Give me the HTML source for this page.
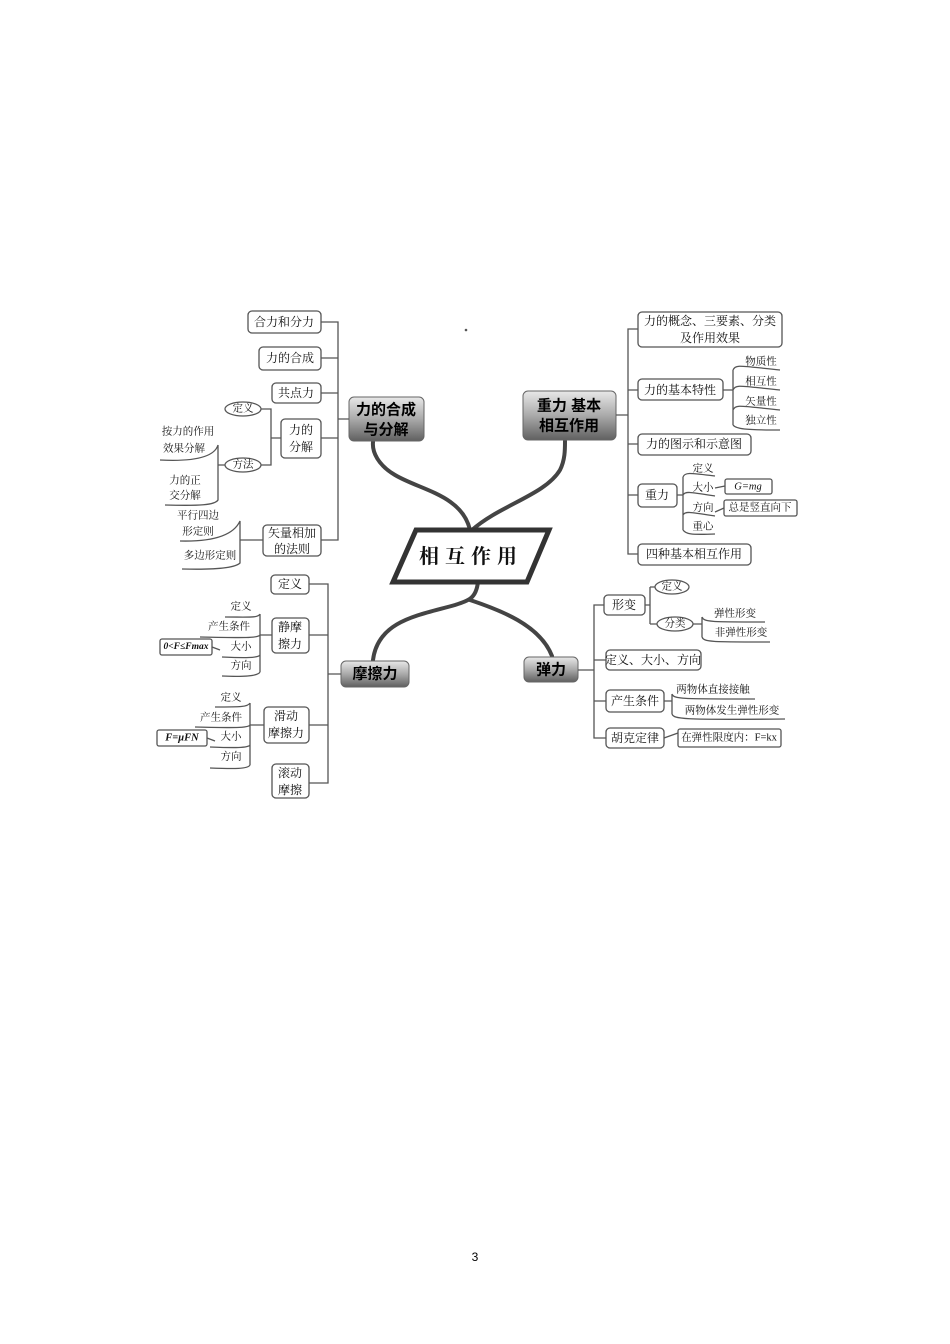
<!DOCTYPE html>
<html><head><meta charset="utf-8"><style>
body{margin:0;background:#fff;}
svg{display:block;font-family:"Liberation Serif","Noto Serif CJK SC","Noto Sans CJK SC",serif;}
.b{fill:#fff;stroke:#555;stroke-width:1.3}
.l{fill:none;stroke:#555;stroke-width:1.3}
.t{font-size:12px;fill:#111;text-anchor:middle;dominant-baseline:central}
.s{font-size:10.5px;fill:#111;text-anchor:middle;dominant-baseline:central}
.h{font-family:"Liberation Sans","Noto Sans CJK SC",sans-serif;font-size:15px;font-weight:bold;fill:#000;text-anchor:middle;dominant-baseline:central}
.c{fill:none;stroke:#444;stroke-width:4;stroke-linecap:round}
</style></head><body>
<svg width="950" height="1344" viewBox="0 0 950 1344">
<defs><linearGradient id="g" x1="0" y1="0" x2="0" y2="1"><stop offset="0" stop-color="#e8e8e8"/><stop offset="0.5" stop-color="#aaa"/><stop offset="1" stop-color="#606060"/></linearGradient></defs>
<path class="c" d="M470,530 C462,495 420,490 395,475 C378,465 372,452 373,442"/>
<path class="c" d="M472,530 C500,505 545,495 560,470 C565,460 565,450 565,441"/>
<path class="c" d="M478,582 C476,598 470,600 455,605 C420,615 378,620 373,660"/>
<path class="c" d="M470,600 C500,610 540,625 552,656"/>
<polygon points="416,530 549,530 527,582 393,582" fill="#fff" stroke="#333" stroke-width="5"/>
<text x="471" y="557" style="font-size:20px;font-weight:bold;letter-spacing:6px" class="t">相互作用</text>
<circle cx="466" cy="330" r="1.3" fill="#555"/>
<rect x="349" y="397" width="75" height="44" rx="5" fill="url(#g)" stroke="#666"/>
<text x="386" y="410" class="h">力的合成</text><text x="386" y="430" class="h">与分解</text>
<rect x="523" y="391" width="93" height="49" rx="5" fill="url(#g)" stroke="#666"/>
<text x="569" y="406" class="h">重力  基本</text><text x="569" y="426" class="h">相互作用</text>
<rect x="341" y="661" width="68" height="26" rx="5" fill="url(#g)" stroke="#666"/>
<text x="375" y="674" class="h">摩擦力</text>
<rect x="524" y="657" width="54" height="25" rx="5" fill="url(#g)" stroke="#666"/>
<text x="551" y="670" class="h">弹力</text>

<path class="l" d="M321,322H338V540H321M321,358H338M321,393H338M321,438H338M338,419H349"/>
<rect class="b" x="248" y="311" width="73" height="22" rx="4"/><text x="284" y="322" class="t">合力和分力</text>
<rect class="b" x="259" y="347" width="62" height="23" rx="4"/><text x="290" y="358" class="t">力的合成</text>
<rect class="b" x="272" y="383" width="49" height="20" rx="4"/><text x="296" y="393" class="t">共点力</text>
<rect class="b" x="281" y="419" width="40" height="39" rx="4"/><text x="301" y="430" class="t">力的</text><text x="301" y="447" class="t">分解</text>
<rect class="b" x="263" y="525" width="58" height="31" rx="4"/><text x="292" y="533" class="t">矢量相加</text><text x="292" y="549" class="t">的法则</text>
<path class="l" d="M261,409H271V465H261M271,438H281"/>
<ellipse class="b" cx="243" cy="409" rx="18" ry="7"/><text x="243" y="409" class="s">定义</text>
<ellipse class="b" cx="243" cy="465" rx="18" ry="7"/><text x="243" y="465" class="s">方法</text>
<path class="l" d="M225,465H218M160,460C200,462 215,455 218,445V500C215,505 200,506 165,505"/>
<text x="188" y="432" class="s">按力的作用</text><text x="184" y="449" class="s">效果分解</text>
<text x="185" y="481" class="s">力的正</text><text x="185" y="496" class="s">交分解</text>
<path class="l" d="M263,540H240M180,541C220,542 235,532 240,521V563C236,567 220,570 182,569"/>
<text x="198" y="516" class="s">平行四边</text><text x="198" y="532" class="s">形定则</text><text x="210" y="556" class="s">多边形定则</text>

<path class="l" d="M638,329H628V554H638M628,390H638M628,444H638M628,495H638M616,415H628"/>
<rect class="b" x="638" y="312" width="144" height="35" rx="4"/><text x="710" y="321" class="t">力的概念、三要素、分类</text><text x="710" y="338" class="t">及作用效果</text>
<rect class="b" x="638" y="379" width="85" height="21" rx="4"/><text x="680" y="390" class="t">力的基本特性</text>
<path class="l" d="M723,390H733M733,370V425M733,370C736,364 740,366 780,370M733,390C736,384 740,386 780,390M733,410C736,404 740,406 780,410M733,425C736,429 745,430 780,430"/>
<text x="761" y="362" class="s">物质性</text><text x="761" y="382" class="s">相互性</text><text x="761" y="402" class="s">矢量性</text><text x="761" y="421" class="s">独立性</text>
<rect class="b" x="638" y="434" width="113" height="21" rx="4"/><text x="694" y="444" class="t">力的图示和示意图</text>
<rect class="b" x="638" y="484" width="39" height="23" rx="4"/><text x="657" y="495" class="t">重力</text>
<path class="l" d="M677,495H683M683,477V530M683,477C685,472 690,473 715,476M683,495C685,491 690,492 715,496M683,515C685,511 690,512 715,516M683,530C686,534 690,535 715,534"/>
<text x="703" y="469" class="s">定义</text><text x="703" y="488" class="s">大小</text><text x="703" y="508" class="s">方向</text><text x="703" y="527" class="s">重心</text>
<path class="l" d="M715,488L725,486M715,512L724,508"/>
<rect class="b" x="725" y="479" width="47" height="15" rx="2"/><text x="748" y="487" class="s" style="font-style:italic">G=mg</text>
<rect class="b" x="724" y="500" width="73" height="16" rx="2"/><text x="760" y="508" class="s">总是竖直向下</text>
<rect class="b" x="638" y="544" width="113" height="21" rx="4"/><text x="694" y="554" class="t">四种基本相互作用</text>

<path class="l" d="M309,584H328V783H309M309,635H328M309,725H328M328,674H341"/>
<rect class="b" x="271" y="575" width="38" height="19" rx="4"/><text x="290" y="584" class="t">定义</text>
<rect class="b" x="272" y="618" width="37" height="35" rx="4"/><text x="290" y="627" class="t">静摩</text><text x="290" y="644" class="t">擦力</text>
<rect class="b" x="264" y="707" width="45" height="36" rx="4"/><text x="286" y="716" class="t">滑动</text><text x="286" y="733" class="t">摩擦力</text>
<rect class="b" x="272" y="764" width="37" height="34" rx="4"/><text x="290" y="773" class="t">滚动</text><text x="290" y="790" class="t">摩擦</text>
<path class="l" d="M272,635H260M260,614V672M260,614C258,618 250,617 225,617M260,635C258,638 245,638 200,637M260,655C258,658 245,658 222,657M260,672C258,676 245,677 222,676"/>
<text x="241" y="607" class="s">定义</text><text x="229" y="627" class="s">产生条件</text><text x="241" y="647" class="s">大小</text><text x="241" y="666" class="s">方向</text>
<rect class="b" x="160" y="639" width="52" height="16" rx="2"/><text x="186" y="647" class="s" style="font-style:italic;font-size:9.5px;font-weight:bold">0&lt;F≤Fmax</text>
<path class="l" d="M212,647L220,650"/>
<path class="l" d="M264,725H250M250,703V765M250,703C248,707 240,707 215,707M250,725C248,728 235,728 195,727M250,745C248,748 235,748 210,747M250,765C248,769 235,769 210,768"/>
<text x="231" y="698" class="s">定义</text><text x="221" y="718" class="s">产生条件</text><text x="231" y="737" class="s">大小</text><text x="231" y="757" class="s">方向</text>
<rect class="b" x="157" y="730" width="50" height="16" rx="2"/><text x="182" y="738" class="s" style="font-style:italic;font-weight:bold">F=μFN</text>
<path class="l" d="M207,738L215,741"/>

<path class="l" d="M606,605H594V738H606M594,660H606M594,701H606M578,670H594"/>
<rect class="b" x="604" y="595" width="41" height="20" rx="4"/><text x="624" y="605" class="t">形变</text>
<path class="l" d="M645,605H650M650,587V624M650,587H655M650,624H657"/>
<ellipse class="b" cx="672" cy="587" rx="17" ry="7"/><text x="672" y="587" class="s">定义</text>
<ellipse class="b" cx="675" cy="624" rx="18" ry="7"/><text x="675" y="624" class="s">分类</text>
<path class="l" d="M693,624H702M702,617V637M702,617C704,622 710,622 765,622M702,637C704,642 710,642 770,642"/>
<text x="735" y="614" class="s">弹性形变</text><text x="741" y="633" class="s">非弹性形变</text>
<rect class="b" x="606" y="650" width="95" height="20" rx="4"/><text x="653" y="660" class="t">定义、大小、方向</text>
<rect class="b" x="606" y="690" width="58" height="22" rx="4"/><text x="635" y="701" class="t">产生条件</text>
<path class="l" d="M664,701H672M672,694V714M672,694C674,699 680,699 755,699M672,714C674,719 680,720 785,719"/>
<text x="713" y="690" class="s">两物体直接接触</text><text x="732" y="711" class="s">两物体发生弹性形变</text>
<rect class="b" x="606" y="728" width="58" height="20" rx="4"/><text x="635" y="738" class="t">胡克定律</text>
<path class="l" d="M664,738L678,733"/>
<rect class="b" x="678" y="729" width="103" height="18" rx="2"/><text x="729" y="738" class="s">在弹性限度内：F=kx</text>

<text x="475" y="1257" style="font-family:'Liberation Sans',sans-serif;font-size:12px" text-anchor="middle" dominant-baseline="central">3</text>
</svg>
</body></html>
